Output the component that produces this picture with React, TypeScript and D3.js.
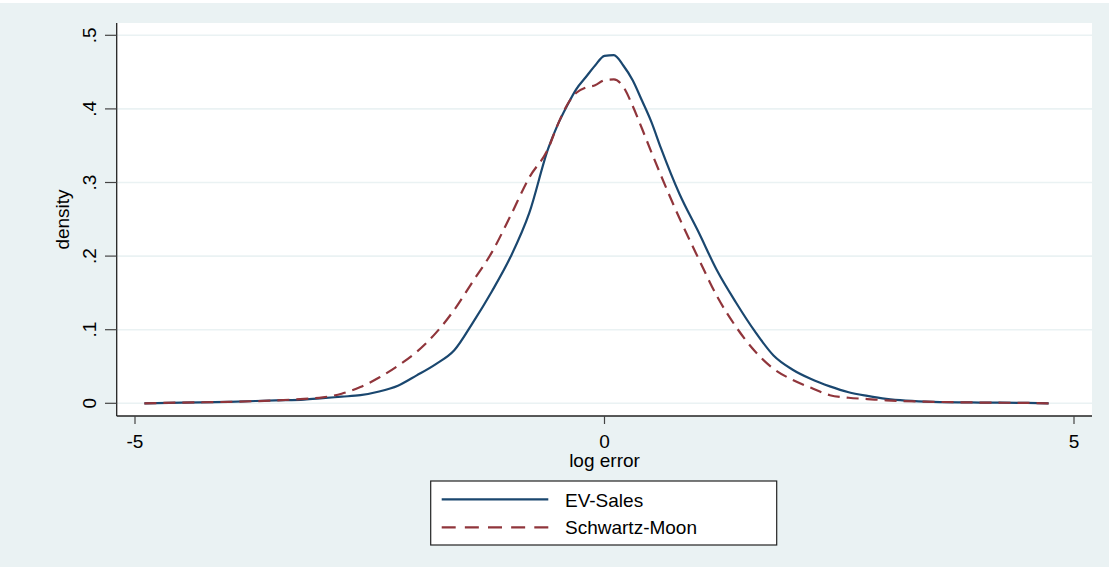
import React from "react";
import * as d3 from "d3";

const gridX = [-4.9, -4.5, -4.0, -3.5, -3.2, -3.0, -2.8, -2.6, -2.4, -2.2, -2.0, -1.8, -1.6, -1.4, -1.2, -1.0, -0.8, -0.6, -0.5, -0.4, -0.3, -0.2, -0.1, 0.0, 0.1, 0.2, 0.3, 0.4, 0.5, 0.6, 0.8, 1.0, 1.2, 1.4, 1.6, 1.8, 2.0, 2.2, 2.4, 2.6, 2.8, 3.0, 3.5, 4.0, 4.5, 4.73];

const evSales = [0.000, 0.001, 0.002, 0.004, 0.005, 0.007, 0.009, 0.011, 0.016, 0.024, 0.038, 0.053, 0.072, 0.110, 0.152, 0.199, 0.259, 0.346, 0.378, 0.404, 0.427, 0.443, 0.459, 0.472, 0.473, 0.459, 0.439, 0.411, 0.382, 0.347, 0.284, 0.233, 0.180, 0.137, 0.098, 0.065, 0.046, 0.033, 0.023, 0.015, 0.010, 0.006, 0.002, 0.001, 0.0005, 0.000];

const schwartzMoon = [0.000, 0.001, 0.002, 0.004, 0.006, 0.008, 0.013, 0.022, 0.035, 0.051, 0.070, 0.095, 0.127, 0.166, 0.205, 0.255, 0.307, 0.346, 0.378, 0.405, 0.422, 0.429, 0.432, 0.439, 0.440, 0.430, 0.404, 0.373, 0.341, 0.310, 0.251, 0.197, 0.145, 0.104, 0.071, 0.047, 0.032, 0.021, 0.011, 0.0075, 0.0058, 0.004, 0.002, 0.001, 0.0005, 0.000];

const xTicks = [-5, 0, 5];
const yTicks = [0, 0.1, 0.2, 0.3, 0.4, 0.5];
const yTickLabels = ["0", ".1", ".2", ".3", ".4", ".5"];
const seriesNames = ["EV-Sales", "Schwartz-Moon"];

const W = 1109;
const H = 567;
const left = 116.7;
const right = 1092;
const top = 23;
const bottom = 416;

const x = d3.scaleLinear().domain([-5, 5]).range([135, 1074]);
const y = d3.scaleLinear().domain([0, 0.5]).range([403.3, 35.3]);

const FONT = "'Liberation Sans', Arial, Helvetica, sans-serif";
const BLUE = "#1a476f";
const RED = "#90353b";
const BG = "#eaf2f3";

export default function App() {
  const line = d3
    .line<number>()
    .x((_, i) => x(gridX[i]))
    .y((d) => y(d))
    .curve(d3.curveMonotoneX);

  return (
    <svg
      width={W}
      height={H}
      style={{ position: "fixed", left: 0, top: 0, display: "block" }}
      fontFamily={FONT}
    >
      <rect x={0} y={0} width={W} height={H} fill={BG} />
      <rect x={0} y={0} width={W} height={3} fill="#ffffff" />
      <rect x={left} y={top} width={right - left} height={bottom - top} fill="#ffffff" />
      {yTicks.map((t) => (
        <line key={"g" + t} x1={left} x2={right} y1={y(t)} y2={y(t)} stroke={BG} strokeWidth={1.6} />
      ))}
      <path d={line(evSales) || ""} fill="none" stroke={BLUE} strokeWidth={2.2} />
      <path d={line(schwartzMoon) || ""} fill="none" stroke={RED} strokeWidth={2.2} strokeDasharray="12 7" />
      <line x1={left} x2={left} y1={top} y2={bottom} stroke="#222" strokeWidth={1.3} />
      <line x1={left} x2={right} y1={bottom} y2={bottom} stroke="#222" strokeWidth={1.3} />
      {yTicks.map((t, i) => (
        <g key={"y" + t}>
          <line x1={105} x2={left} y1={y(t)} y2={y(t)} stroke="#444" strokeWidth={1.2} />
          <text
            transform={`translate(96,${y(t)}) rotate(-90)`}
            textAnchor="middle"
            fontSize={19}
            fill="#000"
          >
            {yTickLabels[i]}
          </text>
        </g>
      ))}
      {xTicks.map((t) => (
        <g key={"x" + t}>
          <line x1={x(t)} x2={x(t)} y1={bottom} y2={424} stroke="#444" strokeWidth={1.2} />
          <text x={x(t)} y={448} textAnchor="middle" fontSize={19} fill="#000">
            {t}
          </text>
        </g>
      ))}
      <text x={x(0)} y={467} textAnchor="middle" fontSize={19} fill="#000">
        log error
      </text>
      <text transform={`translate(69,${(top + bottom) / 2}) rotate(-90)`} textAnchor="middle" fontSize={19} fill="#000">
        density
      </text>
      <rect x={430.7} y={481} width={346} height={64} fill="#ffffff" stroke="#222" strokeWidth={1.2} />
      <line x1={441.7} x2={548.3} y1={499.3} y2={499.3} stroke={BLUE} strokeWidth={2.2} />
      <line x1={441.7} x2={548.3} y1={527.3} y2={527.3} stroke={RED} strokeWidth={2.2} strokeDasharray="14 9.15" />
      <text x={565} y={507} fontSize={19} fill="#000">
        {seriesNames[0]}
      </text>
      <text x={565} y={534} fontSize={19} fill="#000">
        {seriesNames[1]}
      </text>
    </svg>
  );
}
